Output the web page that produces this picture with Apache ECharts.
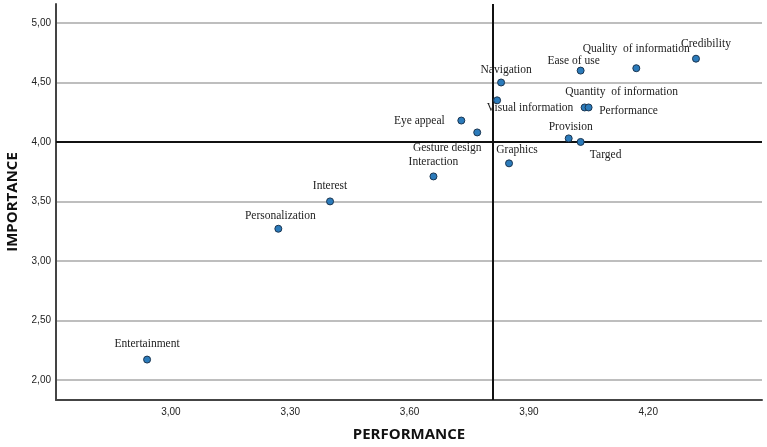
<!DOCTYPE html>
<html><head><meta charset="utf-8">
<script src="https://cdn.jsdelivr.net/npm/echarts@6/dist/echarts.min.js"></script>
<style>html,body{margin:0;padding:0;background:#fff}#c{width:767px;height:447px}</style>
</head><body><div id="c"></div>
<script>
const names = ['Credibility','Quality  of information','Ease of use','Navigation','Visual information','Quantity  of information','Performance','Eye appeal','Gesture design','Provision','Targed','Graphics','Interaction','Interest','Personalization','Entertainment'];
const performance = [4.32,4.17,4.03,3.83,3.82,4.04,4.05,3.73,3.77,4.00,4.03,3.85,3.66,3.40,3.27,2.94];
const importance = [4.70,4.62,4.60,4.50,4.35,4.29,4.29,4.18,4.08,4.03,4.00,3.82,3.71,3.50,3.27,2.17];
const xTicks = [3.0,3.3,3.6,3.9,4.2];
const yTicks = [2.0,2.5,3.0,3.5,4.0,4.5,5.0];
const meanPerformance = 3.807;
const meanImportance = 4.005;

// label layout (pixel offsets from each point), not data
const labelOffsets = [[10,-15],[0,-19],[-7,-10],[5,-13],[33,8],[37,-15],[40,4],[-42,0],[-30,16],[2,-11],[25,13],[8,-13],[0,-14],[0,-15],[2,-13],[0,-16]];

const fmt = v => Number(v).toFixed(2).replace('.', ',');
const points = names.map((n, i) => ({
  name: n,
  value: [performance[i], importance[i]],
  label: { offset: labelOffsets[i] }
}));

const chart = echarts.init(document.getElementById('c'), null, {renderer: 'canvas'});
chart.setOption({
  animation: false,
  backgroundColor: '#fff',
  grid: {left: 56, right: 5, top: 4, bottom: 47, containLabel: false, outerBoundsMode: 'none'},
  xAxis: {
    type: 'value', min: 2.711, max: 4.486,
    name: 'PERFORMANCE', nameLocation: 'middle', nameGap: 27,
    nameTextStyle: {fontFamily: 'Open Sans', fontWeight: 'bold', fontSize: 15, color: '#111'},
    axisLine: {show: true, onZero: false, lineStyle: {color: '#444', width: 2}},
    axisTick: {show: false, customValues: xTicks},
    axisLabel: {customValues: xTicks, formatter: fmt, fontFamily: 'Liberation Sans', fontSize: 10, color: '#222', margin: 7},
    splitLine: {show: false}
  },
  yAxis: {
    type: 'value', min: 1.83, max: 5.16,
    name: 'IMPORTANCE', nameLocation: 'middle', nameGap: 35, nameRotate: 90,
    nameTextStyle: {fontFamily: 'Open Sans', fontWeight: 'bold', fontSize: 15, color: '#111'},
    axisLine: {show: true, onZero: false, lineStyle: {color: '#444', width: 2}},
    axisTick: {show: false, customValues: yTicks},
    axisLabel: {customValues: yTicks, formatter: fmt, fontFamily: 'Liberation Sans', fontSize: 10, color: '#222', margin: 5},
    splitLine: {show: true, lineStyle: {color: '#a8a8a8', width: 1.5}}
  },
  series: [{
    type: 'scatter',
    data: points,
    symbolSize: 7,
    itemStyle: {color: '#2b7bbb', borderColor: '#1b3550', borderWidth: 1, opacity: 1},
    label: {
      show: true, position: 'inside', formatter: p => p.name,
      fontFamily: 'Liberation Serif', fontSize: 11.5, color: '#222'
    },
    markLine: {
      silent: true, symbol: 'none', animation: false,
      label: {show: false},
      lineStyle: {color: '#111', width: 2, type: 'solid'},
      data: [{xAxis: meanPerformance}, {yAxis: meanImportance}]
    },
    z: 5
  }]
});
</script></body></html>
